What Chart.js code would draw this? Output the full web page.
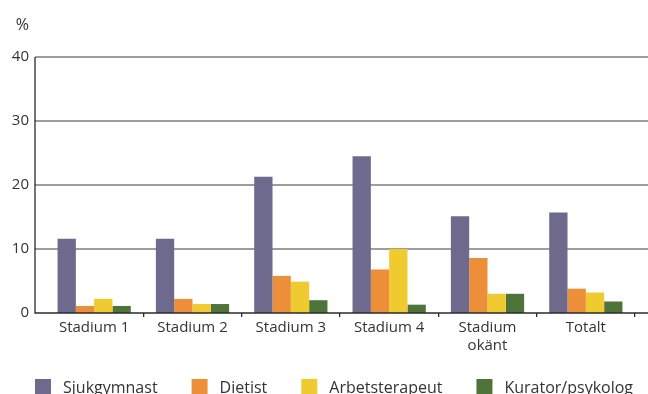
<!DOCTYPE html>
<html>
<head>
<meta charset="utf-8">
<script src="https://cdn.jsdelivr.net/npm/chart.js@4"></script>
<style>
  html, body { margin: 0; padding: 0; background: #fff; overflow: hidden; }
</style>
</head>
<body>
<canvas id="c" width="648" height="394"></canvas>
<script>
// Andel patienter (%) som träffat respektive yrkesgrupp, per stadium
const categories = ['Stadium 1', 'Stadium 2', 'Stadium 3', 'Stadium 4', ['Stadium', 'okänt'], 'Totalt'];
const seriesNames = ['Sjukgymnast', 'Dietist', 'Arbetsterapeut', 'Kurator/psykolog'];
const sjukgymnast    = [11.6, 11.6, 21.3, 24.5, 15.1, 15.7];
const dietist        = [1.1, 2.2, 5.8, 6.8, 8.6, 3.8];
const arbetsterapeut = [2.2, 1.4, 4.9, 10.0, 3.0, 3.2];
const kurator        = [1.1, 1.4, 2.0, 1.3, 3.0, 1.8];
const yTicks = [0, 10, 20, 30, 40];
const unitLabel = '%';

const seriesColors = ['#6e6a8e', '#ec8f38', '#efcb2f', '#4e7439'];
const textColor = '#333333';
const FONT = "'Open Sans', sans-serif";
const AXIS_GAP = 10;      // space between the y axis line and the first group

Chart.defaults.font.family = FONT;
Chart.defaults.font.size = 15;
Chart.defaults.color = textColor;

// Grid lines and axis lines run from the y axis line to the right edge of the canvas
const framePlugin = {
  id: 'frame',
  beforeDatasetsDraw(chart) {
    const { ctx, chartArea, scales: { y } } = chart;
    const x0 = chartArea.left - AXIS_GAP;
    ctx.save();
    ctx.strokeStyle = '#7d7d7d';
    ctx.lineWidth = 1.4;
    yTicks.forEach(v => {
      if (v === 0) return;
      const py = y.getPixelForValue(v);
      ctx.beginPath();
      ctx.moveTo(x0, py);
      ctx.lineTo(chart.width, py);
      ctx.stroke();
    });
    ctx.restore();
  },
  afterDatasetsDraw(chart) {
    const { ctx, chartArea, scales: { y } } = chart;
    const x0 = chartArea.left - AXIS_GAP;
    const yb = y.getPixelForValue(0);
    const yt = y.getPixelForValue(yTicks[yTicks.length - 1]);
    ctx.save();
    ctx.strokeStyle = '#2b2b2b';
    ctx.lineWidth = 1.3;
    ctx.beginPath();
    ctx.moveTo(x0, yt);
    ctx.lineTo(x0, yb);
    ctx.lineTo(chart.width, yb);
    ctx.stroke();
    // unit label above the y axis
    ctx.fillStyle = textColor;
    ctx.font = '16px ' + FONT;
    ctx.textAlign = 'right';
    ctx.textBaseline = 'middle';
    ctx.fillText(unitLabel, chartArea.left - 16, yt - 32);
    ctx.restore();
  }
};

// Legend row along the bottom edge
const legendRow = {
  id: 'legendRow',
  afterDraw(chart) {
    const { ctx, chartArea } = chart;
    const box = 16, gapText = 12, gapItem = 34;
    let x = chartArea.left - AXIS_GAP;
    const top = chartArea.bottom + 66;
    ctx.save();
    ctx.font = '16px ' + FONT;
    ctx.textBaseline = 'alphabetic';
    ctx.textAlign = 'left';
    chart.data.datasets.forEach(ds => {
      ctx.fillStyle = ds.backgroundColor;
      ctx.fillRect(x, top, box, box);
      ctx.fillStyle = textColor;
      ctx.fillText(ds.label, x + box + gapText, top + 13.5);
      x += box + gapText + ctx.measureText(ds.label).width + gapItem;
    });
    ctx.restore();
  }
};

const values = [sjukgymnast, dietist, arbetsterapeut, kurator];

new Chart(document.getElementById('c'), {
  type: 'bar',
  data: {
    labels: categories,
    datasets: seriesNames.map((name, i) => ({
      label: name,
      data: values[i],
      backgroundColor: seriesColors[i],
      borderWidth: 0,
      categoryPercentage: 0.745,
      barPercentage: 1.0
    }))
  },
  options: {
    responsive: false,
    animation: false,
    layout: { padding: { top: 57, right: 13, bottom: 0, left: 0 } },
    plugins: {
      legend: { display: false },
      tooltip: { enabled: false }
    },
    scales: {
      x: {
        grid: {
          offset: true,
          drawOnChartArea: false,
          drawTicks: true,
          tickLength: 4,
          lineWidth: 1.3,
          color: ctx => (ctx.index === 0 || ctx.index === categories.length) ? 'rgba(0,0,0,0)' : '#2b2b2b'
        },
        border: { display: false },
        ticks: { padding: 2, maxRotation: 0, autoSkip: false, font: { size: 15, lineHeight: 1.2 } },
        afterFit(s) { s.height = 81; }
      },
      y: {
        min: 0,
        max: 40,
        afterBuildTicks(s) { s.ticks = yTicks.map(v => ({ value: v })); },
        grid: { display: false, drawTicks: false },
        border: { display: false },
        ticks: { padding: 16, font: { size: 15 } },
        afterFit(s) { s.width = 45; }
      }
    }
  },
  plugins: [framePlugin, legendRow]
});
</script>
</body>
</html>
